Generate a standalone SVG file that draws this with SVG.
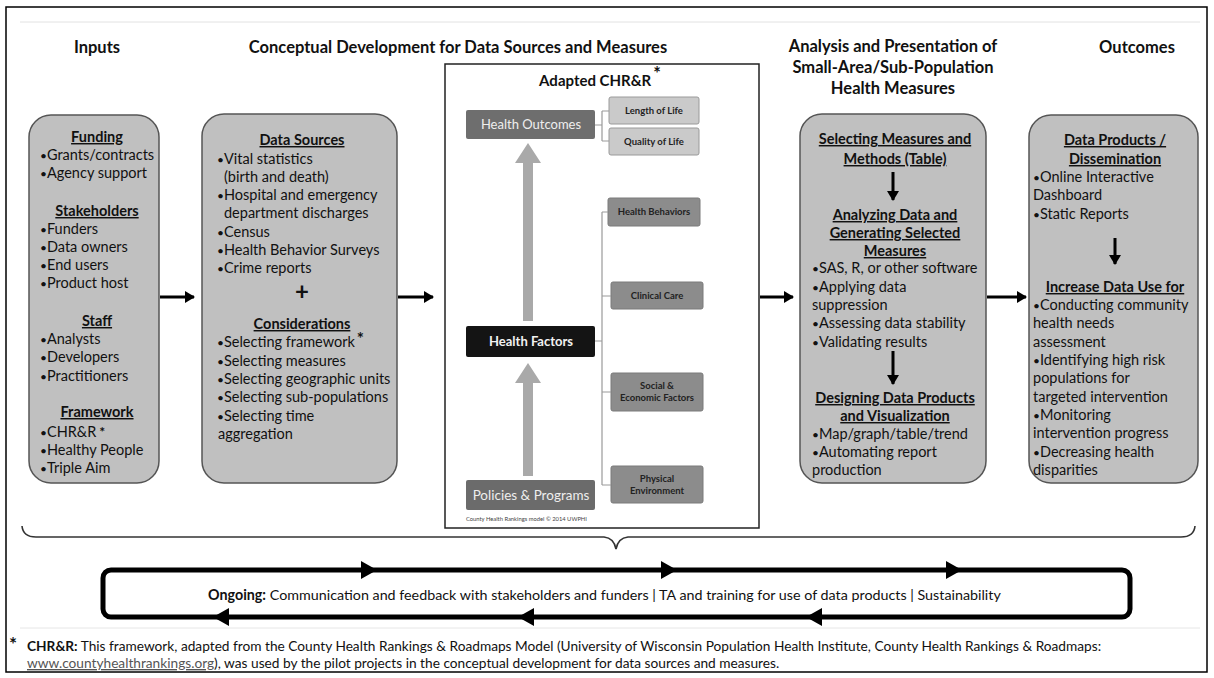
<svg xmlns="http://www.w3.org/2000/svg" width="1214" height="678" viewBox="0 0 1214 678">
<defs>
<style>
text{font-family:Lato,"Liberation Sans",Arial,sans-serif;fill:#111}
.title{font-size:16.5px;font-weight:bold;text-anchor:middle}
.t{font-size:14.5px}
.b{font-size:12px}
.h{font-size:14.5px;font-weight:bold;text-anchor:middle;text-decoration:underline}
.box{fill:#c0c0c0;stroke:#555;stroke-width:1.5}
.sa{font-weight:bold;font-size:17px}
.arr{stroke:#000;stroke-width:3;fill:none}
.m{font-family:Lato,"Liberation Sans",sans-serif;text-anchor:middle}
.lt{fill:#cacaca;stroke:#9a9a9a;stroke-width:1}
.md{fill:#8c8c8c;stroke:#7a7a7a;stroke-width:1}
.lab{font-size:9.5px;font-weight:bold;fill:#222}
.conn{stroke:#9a9a9a;stroke-width:1.2;fill:none}
.big{fill:#a9a9a9}
.loop{stroke:#000;stroke-width:5;fill:none}
.og{font-size:14.3px}
.ft{font-size:13.7px}
</style>
<marker id="ah" markerWidth="10" markerHeight="12" refX="9" refY="6" orient="auto" markerUnits="userSpaceOnUse">
<path d="M0,0 L10,6 L0,12 Z" fill="#000"/>
</marker>
</defs>
<rect x="0" y="0" width="1214" height="678" fill="#fff"/>
<rect x="6" y="7" width="1201" height="665" fill="none" stroke="#000" stroke-width="1.5"/>
<line x1="20" y1="22" x2="1200" y2="22" stroke="#e2e2e2" stroke-width="1"/>
<line x1="20" y1="628" x2="1200" y2="628" stroke="#e6e6e6" stroke-width="1"/>

<g id="titles">
<text class="title" x="97" y="53">Inputs</text>
<text class="title" x="458" y="53">Conceptual Development for Data Sources and Measures</text>
<text class="title" x="893" y="52">Analysis and Presentation of</text>
<text class="title" x="893" y="73">Small-Area/Sub-Population</text>
<text class="title" x="893" y="94">Health Measures</text>
<text class="title" x="1137" y="53">Outcomes</text>
</g>

<g id="inputs">
<rect class="box" x="29" y="115" width="130" height="368" rx="22"/>
<text class="h" x="97" y="142">Funding</text>
<text class="t" x="40" y="160"><tspan class="b">•</tspan>Grants/contracts</text>
<text class="t" x="40" y="178"><tspan class="b">•</tspan>Agency support</text>
<text class="h" x="97" y="216">Stakeholders</text>
<text class="t" x="40" y="234"><tspan class="b">•</tspan>Funders</text>
<text class="t" x="40" y="252"><tspan class="b">•</tspan>Data owners</text>
<text class="t" x="40" y="270"><tspan class="b">•</tspan>End users</text>
<text class="t" x="40" y="288"><tspan class="b">•</tspan>Product host</text>
<text class="h" x="97" y="326">Staff</text>
<text class="t" x="40" y="344"><tspan class="b">•</tspan>Analysts</text>
<text class="t" x="40" y="362"><tspan class="b">•</tspan>Developers</text>
<text class="t" x="40" y="381"><tspan class="b">•</tspan>Practitioners</text>
<text class="h" x="97" y="417">Framework</text>
<text class="t" x="40" y="437"><tspan class="b">•</tspan>CHR&amp;R<tspan dx="3" style="font-weight:bold;font-size:14px">*</tspan></text>
<text class="t" x="40" y="455"><tspan class="b">•</tspan>Healthy People</text>
<text class="t" x="40" y="473"><tspan class="b">•</tspan>Triple Aim</text>
</g>

<g id="concept">
<rect class="box" x="202" y="114" width="195" height="369" rx="22"/>
<text class="h" x="302" y="145">Data Sources</text>
<text class="t" x="217" y="164"><tspan class="b">•</tspan>Vital statistics</text>
<text class="t" x="224" y="182">(birth and death)</text>
<text class="t" x="217" y="200"><tspan class="b">•</tspan>Hospital and emergency</text>
<text class="t" x="224" y="218">department discharges</text>
<text class="t" x="217" y="237"><tspan class="b">•</tspan>Census</text>
<text class="t" x="217" y="255"><tspan class="b">•</tspan>Health Behavior Surveys</text>
<text class="t" x="217" y="273"><tspan class="b">•</tspan>Crime reports</text>
<text x="302" y="300" style="font-size:24px;font-weight:bold;text-anchor:middle">+</text>
<text class="h" x="302" y="329">Considerations</text>
<text class="t" x="217" y="347"><tspan class="b">•</tspan>Selecting framework<tspan class="sa" dx="2" dy="-2">*</tspan></text>
<text class="t" x="217" y="366"><tspan class="b">•</tspan>Selecting measures</text>
<text class="t" x="217" y="384"><tspan class="b">•</tspan>Selecting geographic units</text>
<text class="t" x="217" y="402"><tspan class="b">•</tspan>Selecting sub-populations</text>
<text class="t" x="217" y="421"><tspan class="b">•</tspan>Selecting time</text>
<text class="t" x="218" y="439">aggregation</text>
</g>

<g id="chrr">
<rect x="445" y="64" width="314" height="464" fill="#fff" stroke="#222" stroke-width="1.5"/>
<text x="600" y="86" style="font-size:15px;font-weight:bold;text-anchor:middle">Adapted CHR&amp;R<tspan style="font-size:18px" dx="2" dy="-6">*</tspan></text>
<g id="health-outcomes">
<rect x="466" y="110" width="129" height="29" rx="2" fill="#6e6e6e"/>
<text class="m" x="531" y="129" style="font-size:13px;fill:#eeeeee">Health Outcomes</text>
</g>
<g id="length-of-life">
<rect class="lt" x="609" y="97" width="90" height="27" rx="2"/>
<text class="m lab" x="654" y="114">Length of Life</text>
</g>
<g id="quality-of-life">
<rect class="lt" x="609" y="128" width="90" height="27" rx="2"/>
<text class="m lab" x="654" y="145">Quality of Life</text>
</g>
<g id="health-behaviors">
<rect class="md" x="608" y="198" width="92" height="28" rx="2"/>
<text class="m lab" x="654" y="215">Health Behaviors</text>
</g>
<g id="clinical-care">
<rect class="md" x="611" y="282" width="92" height="27" rx="2"/>
<text class="m lab" x="657" y="299">Clinical Care</text>
</g>
<g id="social-economic">
<rect class="md" x="611" y="373" width="92" height="38" rx="2"/>
<text class="m lab" x="657" y="389">Social &amp;</text>
<text class="m lab" x="657" y="401">Economic Factors</text>
</g>
<g id="physical-environment">
<rect class="md" x="611" y="466" width="92" height="37" rx="2"/>
<text class="m lab" x="657" y="482">Physical</text>
<text class="m lab" x="657" y="494">Environment</text>
</g>
<g id="health-factors">
<rect x="466" y="326" width="129" height="31" rx="2" fill="#141414"/>
<text class="m" x="531" y="346" style="font-size:13px;font-weight:bold;fill:#f2f2f2">Health Factors</text>
</g>
<g id="policies-programs">
<rect x="466" y="480" width="129" height="30" rx="2" fill="#6b6b6b"/>
<text class="m" x="531" y="500" style="font-size:13.5px;fill:#eeeeee">Policies &amp; Programs</text>
</g>
<text x="466" y="521" style="font-size:5.8px;fill:#444">County Health Rankings model © 2014 UWPHI</text>
<polygon class="big" points="528,143 541,163 533,163 533,321 523,321 523,163 515,163"/>
<polygon class="big" points="528,363 541,383 533,383 533,476 523,476 523,383 515,383"/>
</g>

<g id="analysis">
<rect class="box" x="800" y="114" width="186" height="369" rx="22"/>
<text class="h" x="895" y="144">Selecting Measures and</text>
<text class="h" x="895" y="164">Methods (Table)</text>
<text class="h" x="895" y="220">Analyzing Data and</text>
<text class="h" x="895" y="238">Generating Selected</text>
<text class="h" x="895" y="256">Measures</text>
<text class="t" x="812" y="273"><tspan class="b">•</tspan>SAS, R, or other software</text>
<text class="t" x="812" y="292"><tspan class="b">•</tspan>Applying data</text>
<text class="t" x="812" y="310">suppression</text>
<text class="t" x="812" y="328"><tspan class="b">•</tspan>Assessing data stability</text>
<text class="t" x="812" y="347"><tspan class="b">•</tspan>Validating results</text>
<text class="h" x="895" y="403">Designing Data Products</text>
<text class="h" x="895" y="421">and Visualization</text>
<text class="t" x="812" y="439"><tspan class="b">•</tspan>Map/graph/table/trend</text>
<text class="t" x="812" y="457"><tspan class="b">•</tspan>Automating report</text>
<text class="t" x="812" y="475">production</text>
</g>

<g id="outcomes">
<rect class="box" x="1029" y="115" width="169" height="368" rx="22"/>
<text class="h" x="1115" y="145">Data Products /</text>
<text class="h" x="1115" y="164">Dissemination</text>
<text class="t" x="1033" y="182"><tspan class="b">•</tspan>Online Interactive</text>
<text class="t" x="1033" y="200">Dashboard</text>
<text class="t" x="1033" y="219"><tspan class="b">•</tspan>Static Reports</text>
<text class="h" x="1115" y="292">Increase Data Use for</text>
<text class="t" x="1033" y="310"><tspan class="b">•</tspan>Conducting community</text>
<text class="t" x="1033" y="328">health needs</text>
<text class="t" x="1033" y="347">assessment</text>
<text class="t" x="1033" y="365"><tspan class="b">•</tspan>Identifying high risk</text>
<text class="t" x="1033" y="383">populations for</text>
<text class="t" x="1033" y="402">targeted intervention</text>
<text class="t" x="1033" y="420"><tspan class="b">•</tspan>Monitoring</text>
<text class="t" x="1033" y="438">intervention progress</text>
<text class="t" x="1033" y="457"><tspan class="b">•</tspan>Decreasing health</text>
<text class="t" x="1033" y="475">disparities</text>
</g>

<g id="connectors">
<line class="arr" x1="160" y1="297" x2="194" y2="297" marker-end="url(#ah)"/>
<line class="arr" x1="398" y1="297" x2="433" y2="297" marker-end="url(#ah)"/>
<line class="arr" x1="760" y1="297" x2="793" y2="297" marker-end="url(#ah)"/>
<line class="arr" x1="987" y1="297" x2="1026" y2="297" marker-end="url(#ah)"/>
<line class="arr" x1="893" y1="172" x2="893" y2="200" marker-end="url(#ah)"/>
<line class="arr" x1="893" y1="351" x2="893" y2="384" marker-end="url(#ah)"/>
<line class="arr" x1="1115" y1="238" x2="1115" y2="264" marker-end="url(#ah)"/>
<path class="conn" d="M595,125 H602 M602,111 V141 M602,111 H609 M602,141 H609"/>
<path class="conn" d="M595,341 H602 M602,212 V485 M602,212 H608 M602,296 H611 M602,392 H611 M602,485 H611"/>
<path d="M22,526 Q23,537 36,537 H604 Q614,538 616,549 Q618,538 628,537 H1181 Q1194,537 1195,526" fill="none" stroke="#333" stroke-width="1.6"/>
<rect class="loop" x="103" y="570" width="1027" height="47" rx="8"/>
<path d="M377,570 L361,561 L361,579 Z M677,570 L661,561 L661,579 Z M962,570 L946,561 L946,579 Z"/>
<path d="M213,617 L229,608 L229,626 Z M518,617 L534,608 L534,626 Z M806,617 L822,608 L822,626 Z"/>
</g>

<g id="ongoing">
<text class="og" x="208" y="600"><tspan font-weight="bold">Ongoing:</tspan> Communication and feedback with stakeholders and funders | TA and training for use of data products | Sustainability</text>
</g>

<g id="footnote">
<text x="9" y="651" style="font-size:19px;font-weight:bold">*</text>
<text class="ft" x="27" y="651"><tspan font-weight="bold">CHR&amp;R:</tspan> This framework, adapted from the County Health Rankings &amp; Roadmaps Model (University of Wisconsin Population Health Institute, County Health Rankings &amp; Roadmaps:</text>
<text class="ft" x="27" y="668"><tspan style="fill:#555;text-decoration:underline">www.countyhealthrankings.org</tspan>), was used by the pilot projects in the conceptual development for data sources and measures.</text>
</g>
</svg>
